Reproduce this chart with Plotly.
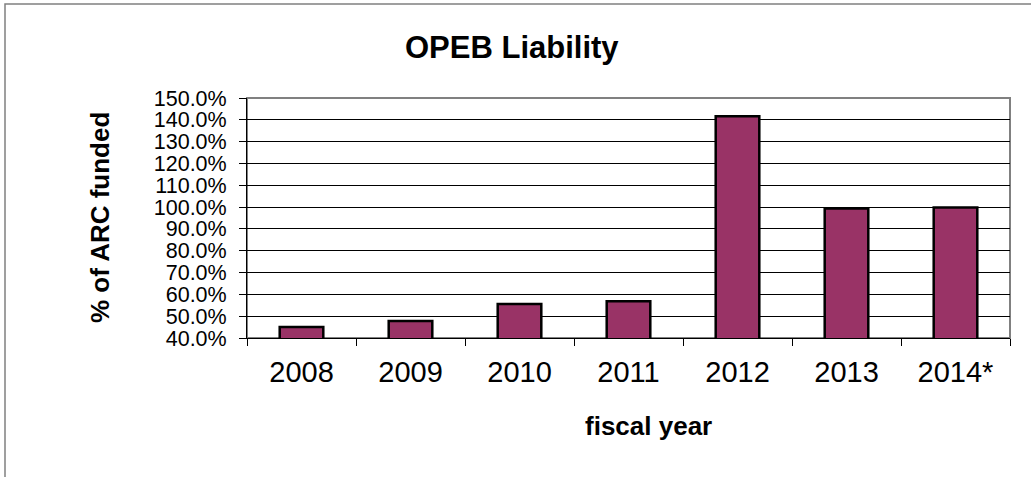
import plotly.graph_objects as go

# OPEB funding history: share of the annual required contribution (ARC) paid
fiscal_years = ["2008", "2009", "2010", "2011", "2012", "2013", "2014*"]
pct_arc_funded = [0.450, 0.478, 0.556, 0.569, 1.416, 0.994, 0.998]

y_ticks = [0.4, 0.5, 0.6, 0.7, 0.8, 0.9, 1.0, 1.1, 1.2, 1.3, 1.4, 1.5]

W, H = 1031, 477
ML, MR, MT, MB = 247, 21, 98, 139
PW, PH = W - ML - MR, H - MT - MB


def px_to_paper_x(px):
    return (px - ML) / PW


def px_to_paper_y(py):
    return (H - MB - py) / PH


FONT = "Liberation Sans, Arial, sans-serif"

fig = go.Figure(
    go.Bar(
        x=fiscal_years,
        y=pct_arc_funded,
        marker=dict(color="#993366", line=dict(color="#000000", width=2.5)),
    )
)

fig.update_layout(
    width=W,
    height=H,
    margin=dict(l=ML, r=MR, t=MT, b=MB, pad=0),
    paper_bgcolor="#ffffff",
    plot_bgcolor="#ffffff",
    bargap=0.6,
    showlegend=False,
    font=dict(family=FONT, color="#000000"),
)

fig.update_xaxes(
    type="category",
    showline=True,
    linecolor="#000000",
    linewidth=1,
    ticks="outside",
    tickson="boundaries",
    ticklen=7,
    tickcolor="#000000",
    tickfont=dict(size=29, family=FONT, color="#000000"),
    ticklabelstandoff=8,
    showgrid=False,
)

fig.update_yaxes(
    range=[0.4, 1.5],
    tickvals=y_ticks,
    tickformat=".1%",
    showline=True,
    linecolor="#000000",
    linewidth=1,
    ticks="outside",
    ticklen=7,
    tickcolor="#000000",
    tickfont=dict(size=21.5, family=FONT, color="#000000"),
    ticklabelstandoff=8,
    showgrid=True,
    gridcolor="#000000",
    gridwidth=1,
    zeroline=False,
)

# plot-area border (top/right in gray) and the outer chart frame
fig.add_shape(
    type="rect", xref="paper", yref="paper", x0=0, x1=1, y0=0, y1=1,
    line=dict(color="#808080", width=2), layer="below",
)
fig.add_shape(
    type="path", xref="paper", yref="paper",
    path=(
        f"M {px_to_paper_x(1045)} {px_to_paper_y(4)} "
        f"L {px_to_paper_x(5)} {px_to_paper_y(4)} "
        f"L {px_to_paper_x(5)} {px_to_paper_y(490)}"
    ),
    line=dict(color="#808080", width=1.5),
)

fig.add_annotation(
    text="<b>OPEB Liability</b>", xref="paper", yref="paper",
    x=px_to_paper_x(512), y=px_to_paper_y(47), xanchor="center", yanchor="middle",
    showarrow=False, font=dict(size=31, family=FONT, color="#000000"),
)
fig.add_annotation(
    text="<b>% of ARC funded</b>", xref="paper", yref="paper",
    x=px_to_paper_x(100), y=px_to_paper_y(218), xanchor="center", yanchor="middle",
    textangle=-90, showarrow=False, font=dict(size=26, family=FONT, color="#000000"),
)
fig.add_annotation(
    text="<b>fiscal year</b>", xref="paper", yref="paper",
    x=px_to_paper_x(648), y=px_to_paper_y(426), xanchor="center", yanchor="middle",
    showarrow=False, font=dict(size=26, family=FONT, color="#000000"),
)

fig.write_html("out.html")
